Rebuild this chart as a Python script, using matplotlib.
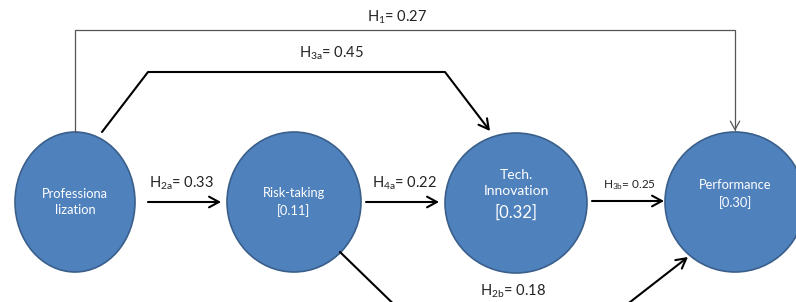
import matplotlib.pyplot as plt
from matplotlib.patches import Ellipse, FancyArrowPatch
from matplotlib.path import Path

plt.rcParams['font.family'] = ['Lato', 'DejaVu Sans']
plt.rcParams['mathtext.fontset'] = 'custom'
plt.rcParams['mathtext.rm'] = 'Lato'
plt.rcParams['mathtext.it'] = 'Lato'

# constructs: label, centre x, centre y, half width, half height
node_labels = ["Professiona\nlization", "Risk-taking\n[0.11]", "Tech.\nInnovation\n[0.32]", "Performance\n[0.30]"]
node_x = [75, 294, 516, 735]
node_y = [202, 202, 203, 202]
node_rx = [60, 67, 71, 70]
node_ry = [70, 70, 70, 70]

# path coefficients
path_names = ["1", "3a", "2a", "4a", "3b", "2b"]
path_coef = [0.27, 0.45, 0.33, 0.22, 0.25, 0.18]

fig = plt.figure(figsize=(7.96, 3.02), dpi=100)
ax = fig.add_axes([0, 0, 1, 1])
ax.set_xlim(0, 796)
ax.set_ylim(302, 0)
ax.axis('off')

for lab, x, y, rx, ry in zip(node_labels, node_x, node_y, node_rx, node_ry):
    ax.add_patch(Ellipse((x, y), 2 * rx, 2 * ry, facecolor='#4f81bd', edgecolor='#3a5f8b', lw=1.2, zorder=2))

ax.text(node_x[0], node_y[0], node_labels[0], color='white', ha='center', va='center', fontsize=9.3, linespacing=1.4, zorder=3)
ax.text(node_x[1], node_y[1], node_labels[1], color='white', ha='center', va='center', fontsize=9.3, linespacing=1.4, zorder=3)
ax.text(node_x[2], 183, "Tech.\nInnovation", color='white', ha='center', va='center', fontsize=10, linespacing=1.4, zorder=3)
ax.text(node_x[2], 213, "[0.32]", color='white', ha='center', va='center', fontsize=12, zorder=3)
ax.text(node_x[3], 194, node_labels[3], color='white', ha='center', va='center', fontsize=9.3, linespacing=1.4, zorder=3)


def arrow(pts, lw=1.5, color='black', head=8):
    codes = [Path.MOVETO] + [Path.LINETO] * (len(pts) - 1)
    p = FancyArrowPatch(path=Path(pts, codes), arrowstyle='->,head_length=%g,head_width=%g' % (head * 0.55, head * 0.3),
                        lw=lw, color=color, zorder=4, mutation_scale=1.6)
    ax.add_patch(p)


def hlabel(x, y, name, val, fs=10.5):
    ax.text(x, y, r"$\mathrm{H_{%s}}$= %.2f" % (name, val), ha='center', va='center', fontsize=fs, color='#222222')


# H1
arrow([(node_x[0], 132), (node_x[0], 30), (node_x[3], 30), (node_x[3], 131)], lw=0.9, color='#555555', head=7)
hlabel(397, 17, path_names[0], path_coef[0])
# H3a
arrow([(102, 132), (148, 72), (445, 72), (490, 131)])
hlabel(331, 53, path_names[1], path_coef[1])
# H2a
arrow([(148, 202), (221, 202)])
hlabel(181, 183, path_names[2], path_coef[2])
# H4a
arrow([(366, 202), (439, 202)])
hlabel(405, 183, path_names[3], path_coef[3])
# H3b
arrow([(592, 201), (664, 201)])
hlabel(630, 185, path_names[4], path_coef[4], fs=8.5)
# H2b
arrow([(340, 252), (410, 320), (607, 320), (688, 257)])
hlabel(513, 291, path_names[5], path_coef[5])

fig.savefig('out.png', dpi=100)
